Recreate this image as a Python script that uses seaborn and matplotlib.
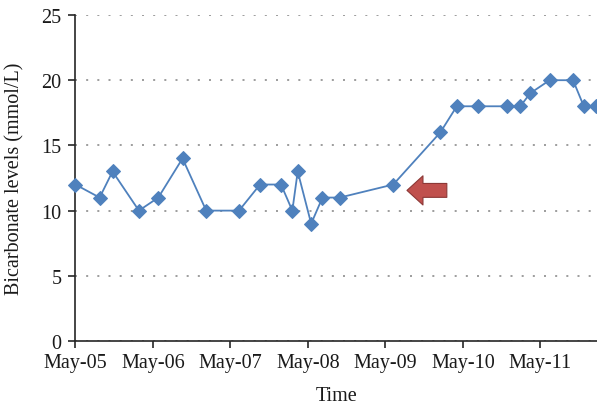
"""Bicarbonate levels over time, with the arrow marking the May-09 reading."""

import matplotlib

matplotlib.use("Agg")
import matplotlib.dates as mdates
import matplotlib.pyplot as plt
import pandas as pd
import seaborn as sns

# Measurement times (year is arbitrary, only month-day is shown)
times = [
    "2016-05-05 00:00", "2016-05-05 07:30", "2016-05-05 11:30", "2016-05-05 19:40",
    "2016-05-06 01:40", "2016-05-06 09:10", "2016-05-06 16:30", "2016-05-07 02:40",
    "2016-05-07 09:10", "2016-05-07 15:40", "2016-05-07 19:10", "2016-05-07 20:50",
    "2016-05-08 01:00", "2016-05-08 04:30", "2016-05-08 09:50", "2016-05-09 02:25",
    "2016-05-09 17:00", "2016-05-09 22:05", "2016-05-10 04:35", "2016-05-10 13:40",
    "2016-05-10 17:45", "2016-05-10 20:50", "2016-05-11 02:50", "2016-05-11 10:05",
    "2016-05-11 13:25", "2016-05-11 17:15",
]
bicarbonate = [12, 11, 13, 10, 11, 14, 10, 10, 12, 12, 10, 13, 9,
               11, 11, 12, 16, 18, 18, 18, 18, 19, 20, 20, 18, 18]
y_ticks = [0, 5, 10, 15, 20, 25]

# Arrow pointing at the May-09 reading (tip, tail, level)
arrow_tip = "2016-05-09 06:40"
arrow_tail = "2016-05-09 19:00"
arrow_level = 11.55

if __name__ == "__main__":
    df = pd.DataFrame({"time": pd.to_datetime(times), "bicarbonate": bicarbonate})

    sns.set_style("white")
    plt.rcParams["font.family"] = ["Liberation Serif", "DejaVu Serif"]

    fig = plt.figure(figsize=(5.97, 4.06), dpi=100)
    ax = fig.add_axes([0.1263, 0.1576, 0.8737, 0.803])

    blue = "#4F81BD"
    sns.lineplot(
        data=df, x="time", y="bicarbonate", ax=ax,
        color=blue, linewidth=1.3, marker="D", markersize=7.5,
        markeredgecolor=blue, markerfacecolor=blue, clip_on=False, zorder=3,
    )

    # Red block arrow
    ax.annotate(
        "",
        xy=(mdates.date2num(pd.Timestamp(arrow_tip)), arrow_level),
        xytext=(mdates.date2num(pd.Timestamp(arrow_tail)), arrow_level),
        arrowprops=dict(
            arrowstyle="simple,head_length=1.15,head_width=2.1,tail_width=1.0",
            mutation_scale=10, shrinkA=0, shrinkB=0,
            fc="#C0504D", ec="#8C3836", lw=0.8,
        ),
        zorder=4,
    )

    ax.set_ylim(0, 25)
    ax.set_yticks(y_ticks)
    ax.set_xlim(pd.Timestamp("2016-05-05 00:00"), pd.Timestamp("2016-05-11 17:30"))
    ax.xaxis.set_major_locator(mdates.DayLocator())
    ax.xaxis.set_major_formatter(mdates.DateFormatter("%b-%d"))

    # Dotted horizontal gridlines
    ax.yaxis.grid(True, color="#8c8c8c", linestyle=(0, (1.2, 5.5)), linewidth=1.2)
    ax.xaxis.grid(False)
    ax.set_axisbelow(True)

    for side in ["top", "right"]:
        ax.spines[side].set_visible(False)
    for side in ["left", "bottom"]:
        ax.spines[side].set_color("#262626")
        ax.spines[side].set_linewidth(1.2)

    ax.tick_params(axis="both", which="major", direction="out", length=5, width=1.2,
                   color="#262626", labelsize=14.5, labelcolor="#1a1a1a",
                   left=True, bottom=True)
    ax.tick_params(axis="y", pad=5)
    ax.tick_params(axis="x", pad=3.5)

    ax.set_xlabel("Time", fontsize=14.5, color="#1a1a1a", labelpad=10)
    ax.set_ylabel("Bicarbonate levels (mmol/L)", fontsize=14.5, color="#1a1a1a",
                  labelpad=12)

    fig.savefig("out.png", dpi=100)
